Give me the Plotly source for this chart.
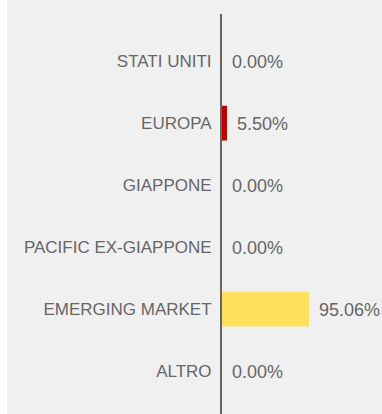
import plotly.graph_objects as go

# Regional allocation (percent of portfolio)
regions = ["STATI UNITI", "EUROPA", "GIAPPONE", "PACIFIC EX-GIAPPONE", "EMERGING MARKET", "ALTRO"]
weights = [0.00, 5.50, 0.00, 0.00, 95.06, 0.00]
bar_colors = ["#c00000", "#c00000", "#c00000", "#c00000", "#ffe05c", "#c00000"]
value_labels = ["0.00%", "5.50%", "0.00%", "0.00%", "95.06%", "0.00%"]

W, H = 382, 414
ML, MT = 222, 14
plot_w = W - ML
text_color = "#666666"
font_family = "Liberation Sans, Arial, sans-serif"

fig = go.Figure(
    go.Bar(
        x=weights,
        y=regions,
        orientation="h",
        marker=dict(color=bar_colors, line=dict(width=0)),
        width=0.56,
        hoverinfo="skip",
    )
)

for r, v, t in zip(regions, weights, value_labels):
    fig.add_annotation(
        x=v, y=r, text=t, showarrow=False, xanchor="left", yanchor="middle",
        xshift=8, yshift=-1,
        font=dict(size=18, color=text_color, family=font_family),
    )

# white strip along the left edge
fig.add_shape(
    type="rect", xref="paper", yref="paper",
    x0=-ML / plot_w, x1=(7 - ML) / plot_w, y0=-0.1, y1=1.1,
    fillcolor="white", line=dict(width=0), layer="below",
)

fig.update_layout(
    width=W, height=H,
    margin=dict(l=ML, r=0, t=MT, b=0, pad=0),
    paper_bgcolor="#f0f0f0",
    plot_bgcolor="#f0f0f0",
    showlegend=False,
    font=dict(family=font_family, color=text_color),
    xaxis=dict(range=[0, plot_w / 0.915], visible=False, fixedrange=True),
    yaxis=dict(
        categoryorder="array", categoryarray=regions,
        range=[5.69, -0.76],
        showline=True, linecolor="#666666", linewidth=2,
        showgrid=False, zeroline=False, ticks="",
        ticklabelstandoff=5,
        tickfont=dict(size=17, color=text_color, family=font_family),
        fixedrange=True,
    ),
)

fig.write_html("out.html")
